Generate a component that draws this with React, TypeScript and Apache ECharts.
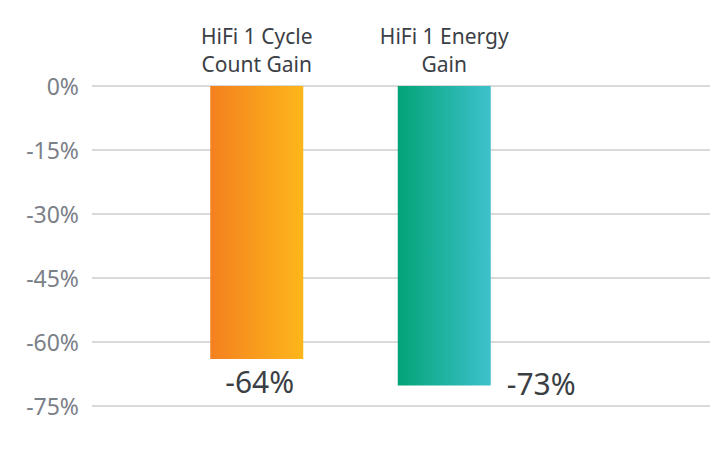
import React, { useEffect, useRef } from "react";
import * as echarts from "echarts";

const categories = ["HiFi 1 Cycle\nCount Gain", "HiFi 1 Energy\nGain"];
const values = [-64, -70.2];
const valueLabels = ["-64%", "-73%"];
const yMin = -75;
const yMax = 0;
const yInterval = 15;
const gradients = [
  ["#F4801F", "#FDB71B"],
  ["#02A477", "#3EC1CC"],
];

export default function App() {
  const ref = useRef<HTMLDivElement>(null);
  useEffect(() => {
    if (!ref.current) return;
    const chart = echarts.init(ref.current, null, { renderer: "svg" });
    const font = "'Noto Sans', sans-serif";
    const labelCfg = [
      { position: "bottom", distance: 7, offset: [3, 0] },
      { position: "bottom", distance: 5, offset: [97, -22] },
    ];
    chart.setOption({
      animation: false,
      backgroundColor: "#ffffff",
      grid: [
        { left: 92, right: 9, top: 86, bottom: 48 },
        { left: 163, right: 181, top: 86, bottom: 48 },
      ],
      xAxis: [
        { type: "category", gridIndex: 0, data: [], show: false },
        {
          type: "category",
          gridIndex: 1,
          position: "top",
          data: categories,
          axisLine: { show: false },
          axisTick: { show: false },
          axisLabel: {
            margin: 8,
            color: "#3b4046",
            fontFamily: font,
            fontSize: 21,
            lineHeight: 28,
          },
        },
      ],
      yAxis: [
        {
          type: "value",
          gridIndex: 0,
          min: yMin,
          max: yMax,
          interval: yInterval,
          axisLine: { show: false },
          axisTick: { show: false },
          axisLabel: {
            formatter: "{value}%",
            color: "#7b8088",
            fontFamily: font,
            fontSize: 23,
            margin: 13,
          },
          splitLine: { lineStyle: { color: "#d9d9d9", width: 2 } },
        },
        {
          type: "value",
          gridIndex: 1,
          min: yMin,
          max: yMax,
          interval: yInterval,
          show: false,
          splitLine: { show: false },
        },
      ],
      series: [
        {
          type: "bar",
          xAxisIndex: 1,
          yAxisIndex: 1,
          barWidth: 93,
          data: values.map((v, i) => ({
            value: v,
            itemStyle: {
              color: {
                type: "linear",
                x: 0,
                y: 0,
                x2: 1,
                y2: 0,
                colorStops: [
                  { offset: 0, color: gradients[i][0] },
                  { offset: 1, color: gradients[i][1] },
                ],
              },
            },
            label: {
              show: true,
              ...labelCfg[i],
              formatter: () => valueLabels[i],
              color: "#3b3f44",
              fontFamily: font,
              fontSize: 30,
            },
          })),
        },
      ],
    });
    return () => chart.dispose();
  }, []);
  return <div ref={ref} style={{ width: 719, height: 454, margin: -8 }} />;
}
